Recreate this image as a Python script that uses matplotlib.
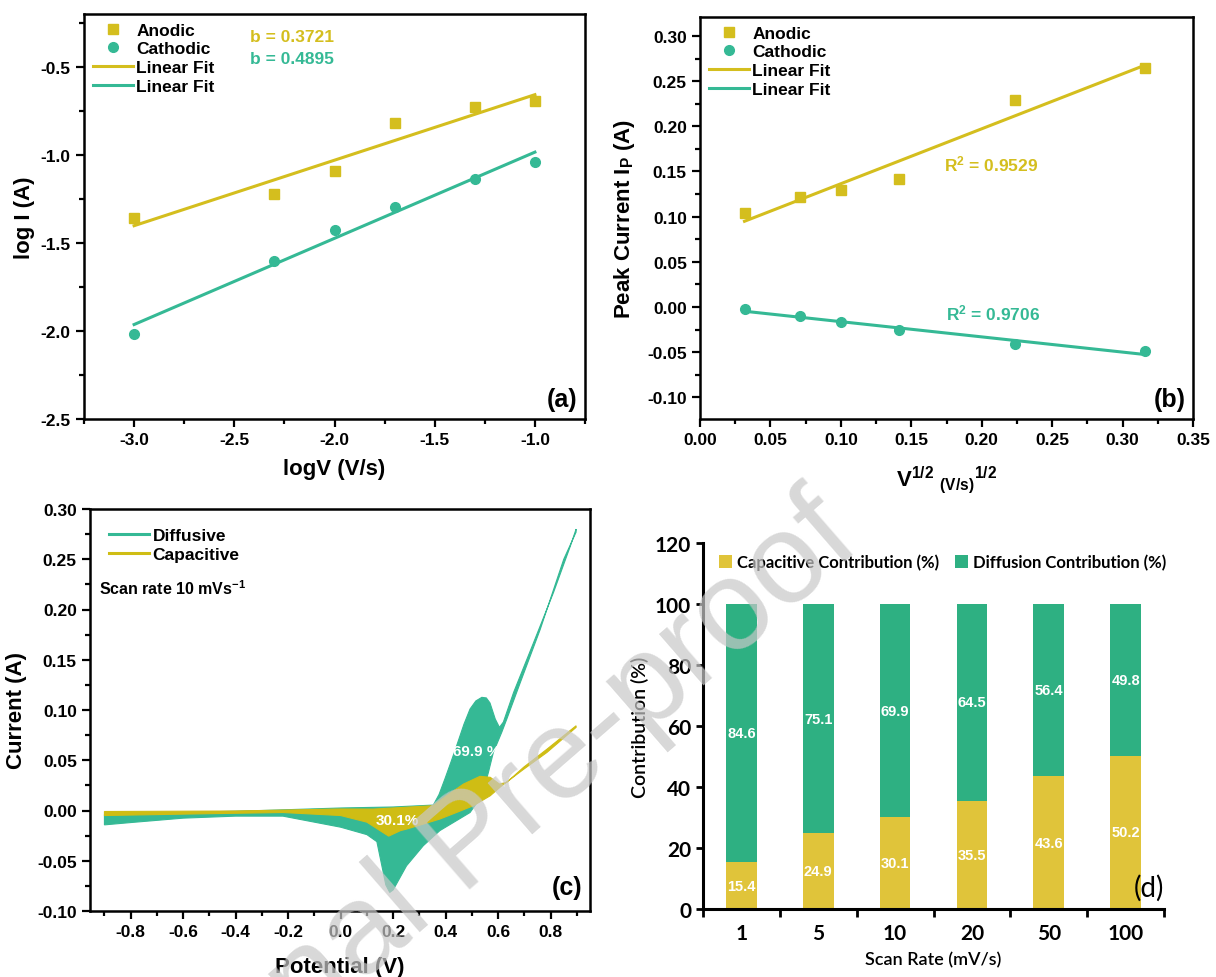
import numpy as np
import matplotlib
matplotlib.use("Agg")
import matplotlib.pyplot as plt
from matplotlib.ticker import MultipleLocator, FormatStrFormatter

plt.rcParams['font.family'] = ['Liberation Sans', 'DejaVu Sans']
plt.rcParams['font.weight'] = 'bold'
plt.rcParams['axes.labelweight'] = 'bold'
plt.rcParams['axes.unicode_minus'] = False
plt.rcParams['mathtext.fontset'] = 'custom'
plt.rcParams['mathtext.rm'] = 'Liberation Sans:bold'
plt.rcParams['mathtext.it'] = 'Liberation Sans:bold'
plt.rcParams['mathtext.bf'] = 'Liberation Sans:bold'

YEL = '#d4be1e'
TEAL = '#35b995'
YEL_C = '#cfbd14'
YEL_D = '#e0c43a'
GRN_D = '#2eb082'

# (a) log I vs log v
log_v = [-3.0, -2.3, -2.0, -1.7, -1.3, -1.0]
logI_anodic = [-1.36, -1.22, -1.09, -0.82, -0.73, -0.695]
logI_cathodic = [-2.02, -1.60, -1.425, -1.295, -1.135, -1.04]
b_values = [0.3721, 0.4895]
fit_intercepts = [-0.286, -0.495]

# (b) peak current vs sqrt(v)
sqrt_v = [0.0316, 0.0707, 0.1, 0.1414, 0.2236, 0.3162]
ip_anodic = [0.104, 0.122, 0.129, 0.142, 0.229, 0.265]
ip_cathodic = [-0.0026, -0.0096, -0.017, -0.026, -0.041, -0.049]
r2_values = ['0.9529', '0.9706']

# (c) CV at 10 mV/s, total (diffusive) and capacitive loops
tot_fwd_E = [-0.9, -0.6, -0.3, 0.0, 0.2, 0.353, 0.375, 0.397, 0.42, 0.442, 0.47, 0.493,
             0.515, 0.538, 0.555, 0.569, 0.589, 0.605, 0.62, 0.659, 0.735, 0.811, 0.875, 0.897]
tot_fwd_I = [-0.004, -0.002, 0.0, 0.0025, 0.0035, 0.0054, 0.016, 0.0313, 0.048, 0.0645, 0.086, 0.101,
             0.109, 0.1126, 0.112, 0.107, 0.091, 0.0827, 0.088, 0.1175, 0.167, 0.217, 0.263, 0.280]
tot_rev_E = [0.897, 0.85, 0.76, 0.684, 0.633, 0.614, 0.582, 0.563, 0.544, 0.52, 0.493, 0.442,
             0.378, 0.315, 0.251, 0.215, 0.2, 0.187, 0.172, 0.157, 0.138, 0.1, 0.0, -0.1,
             -0.22, -0.4, -0.6, -0.8, -0.9]
tot_rev_I = [0.277, 0.25, 0.18, 0.127, 0.091, 0.078, 0.058, 0.038, 0.02, 0.008, -0.002, -0.010,
             -0.020, -0.035, -0.055, -0.072, -0.079, -0.0815, -0.074, -0.055, -0.031, -0.024, -0.0166,
             -0.0116, -0.0056, -0.0056, -0.0076, -0.012, -0.0143]
cap_fwd_E = [-0.9, -0.4, 0.0, 0.124, 0.353, 0.404, 0.468, 0.531, 0.57, 0.605, 0.633, 0.697, 0.786, 0.897]
cap_fwd_I = [-0.001, -0.0005, 0.0015, 0.0014, 0.0048, 0.0147, 0.0263, 0.034, 0.033, 0.0263, 0.028,
             0.043, 0.061, 0.0843]
cap_rev_E = [0.897, 0.786, 0.697, 0.614, 0.57, 0.506, 0.442, 0.378, 0.315, 0.251, 0.228, 0.183,
             0.15, 0.1, 0.0, -0.22, -0.6, -0.9]
cap_rev_I = [0.0827, 0.0578, 0.041, 0.0247, 0.0147, 0.0048, -0.0019, -0.0085, -0.0135, -0.0185,
             -0.02, -0.0255, -0.02, -0.0116, -0.005, -0.002, -0.0036, -0.005]

# (d) contributions per scan rate
scan_rates = ['1', '5', '10', '20', '50', '100']
capacitive = [15.4, 24.9, 30.1, 35.5, 43.6, 50.2]
diffusion = [84.6, 75.1, 69.9, 64.5, 56.4, 49.8]

W, H = 1216, 978
fig = plt.figure(figsize=(W / 100, H / 100), dpi=100)


def rect(l, t, r, b):
    return [l / W, 1 - b / H, (r - l) / W, (b - t) / H]


def origin_style(ax):
    for s in ax.spines.values():
        s.set_linewidth(1.8)
    ax.tick_params(which='both', direction='out', top=False, right=False, width=1.6,
                   labelsize=12.5)
    ax.tick_params(which='major', length=6)
    ax.tick_params(which='minor', length=3.5)


def bold_ticks(ax, family=None, size=None):
    for lab in ax.get_xticklabels(which='both') + ax.get_yticklabels(which='both'):
        lab.set_fontweight('bold')
        if family:
            lab.set_fontfamily(family)
        if size:
            lab.set_fontsize(size)


# ---- (a)
ax = fig.add_axes(rect(84, 15, 585, 420))
origin_style(ax)
ax.plot(log_v, logI_anodic, 's', color=YEL, ms=6.5, label='Anodic')
ax.plot(log_v, logI_cathodic, 'o', color=TEAL, ms=7, label='Cathodic')
xf = np.array([log_v[0], log_v[-1]])
ax.plot(xf, b_values[0] * xf + fit_intercepts[0], color=YEL, lw=2.2, label='Linear Fit')
ax.plot(xf, b_values[1] * xf + fit_intercepts[1], color=TEAL, lw=2.2, label='Linear Fit')
ax.set_xlim(-3.25, -0.75)
ax.set_ylim(-2.5, -0.2)
ax.xaxis.set_major_locator(MultipleLocator(0.5))
ax.xaxis.set_minor_locator(MultipleLocator(0.25))
ax.yaxis.set_major_locator(MultipleLocator(0.5))
ax.yaxis.set_minor_locator(MultipleLocator(0.25))
ax.xaxis.set_major_formatter(FormatStrFormatter('%.1f'))
ax.yaxis.set_major_formatter(FormatStrFormatter('%.1f'))
ax.set_xlabel('logV (V/s)', fontsize=16, labelpad=8)
ax.set_ylabel('log I (A)', fontsize=16, labelpad=4)
ax.legend(loc='upper left', frameon=False, fontsize=12.5, handlelength=2.3,
          handletextpad=0.2, labelspacing=0.2, borderaxespad=0.3, borderpad=0.2)
ax.text(-2.42, -0.325, 'b = %.4f' % b_values[0], color=YEL, fontsize=12.5, va='center')
ax.text(-2.42, -0.455, 'b = %.4f' % b_values[1], color=TEAL, fontsize=12.5, va='center')
ax.text(0.985, 0.02, '(a)', transform=ax.transAxes, ha='right', va='bottom', fontsize=18)
bold_ticks(ax)

# ---- (b)
ax = fig.add_axes(rect(700, 18, 1193, 420))
origin_style(ax)
ax.plot(sqrt_v, ip_anodic, 's', color=YEL, ms=6.5, label='Anodic')
ax.plot(sqrt_v, ip_cathodic, 'o', color=TEAL, ms=7, label='Cathodic')
xs = np.array([sqrt_v[0], sqrt_v[-1]])
pa = np.polyfit(sqrt_v, ip_anodic, 1)
pc = np.polyfit(sqrt_v, ip_cathodic, 1)
ax.plot(xs, np.polyval(pa, xs), color=YEL, lw=2.2, label='Linear Fit')
ax.plot(xs, np.polyval(pc, xs), color=TEAL, lw=2.2, label='Linear Fit')
ax.set_xlim(0, 0.35)
ax.set_ylim(-0.124, 0.321)
ax.xaxis.set_major_locator(MultipleLocator(0.05))
ax.xaxis.set_minor_locator(MultipleLocator(0.025))
ax.yaxis.set_major_locator(MultipleLocator(0.05))
ax.yaxis.set_minor_locator(MultipleLocator(0.025))
ax.xaxis.set_major_formatter(FormatStrFormatter('%.2f'))
ax.yaxis.set_major_formatter(FormatStrFormatter('%.2f'))
ax.set_xlabel(r'V$^{1/2}$ $_{\rm (V/s)}$$^{1/2}$', fontsize=16, labelpad=12)
ax.set_ylabel(r'Peak Current I$_{\rm P}$ (A)', fontsize=16, labelpad=7)
ax.legend(loc='upper left', frameon=False, fontsize=12.5, handlelength=2.3,
          handletextpad=0.2, labelspacing=0.2, borderaxespad=0.3, borderpad=0.2)
ax.text(0.173, 0.159, r'R$^2$ = ' + r2_values[0], color=YEL, fontsize=12.5, va='center')
ax.text(0.175, -0.006, r'R$^2$ = ' + r2_values[1], color=TEAL, fontsize=12.5, va='center')
ax.text(0.985, 0.02, '(b)', transform=ax.transAxes, ha='right', va='bottom', fontsize=18)
bold_ticks(ax)

# ---- (c)
ax = fig.add_axes(rect(90, 510, 590, 912))
origin_style(ax)
ax.fill(tot_fwd_E + tot_rev_E, tot_fwd_I + tot_rev_I, color=TEAL, lw=0.8, ec=TEAL)
ax.fill(cap_fwd_E + cap_rev_E, cap_fwd_I + cap_rev_I, color=YEL_C, lw=0.8, ec=YEL_C)
ax.plot([], [], color=TEAL, lw=2.2, label='Diffusive')
ax.plot([], [], color=YEL_C, lw=2.2, label='Capacitive')
ax.set_xlim(-0.955, 0.95)
ax.set_ylim(-0.10, 0.30)
ax.xaxis.set_major_locator(MultipleLocator(0.2))
ax.xaxis.set_minor_locator(MultipleLocator(0.1))
ax.yaxis.set_major_locator(MultipleLocator(0.05))
ax.yaxis.set_minor_locator(MultipleLocator(0.025))
ax.xaxis.set_major_formatter(FormatStrFormatter('%.1f'))
ax.yaxis.set_major_formatter(FormatStrFormatter('%.2f'))
ax.set_xlabel('Potential (V)', fontsize=16, labelpad=12)
ax.set_ylabel('Current (A)', fontsize=16, labelpad=7)
ax.legend(loc='upper left', frameon=False, fontsize=12.5, handlelength=2.3,
          handletextpad=0.2, labelspacing=0.2, borderaxespad=0.6, borderpad=0.5)
ax.text(-0.92, 0.222, r'Scan rate 10 mVs$^{-1}$', fontsize=11.5, va='center')
ax.text(0.52, 0.059, '69.9 %', color='white', fontsize=11, ha='center', va='center')
ax.text(0.215, -0.009, '30.1%', color='white', fontsize=11, ha='center', va='center')
ax.text(0.985, 0.03, '(c)', transform=ax.transAxes, ha='right', va='bottom', fontsize=18)
bold_ticks(ax)

# ---- (d)
ax = fig.add_axes(rect(703, 544, 1164, 910))
pos = np.arange(len(scan_rates))
b1 = ax.bar(pos, capacitive, 0.4, color=YEL_D, label='Capacitive Contribution (%)')
b2 = ax.bar(pos, diffusion, 0.4, bottom=capacitive, color=GRN_D,
            label='Diffusion Contribution (%)')
for bars, vals in ((b1, capacitive), (b2, diffusion)):
    ax.bar_label(bars, labels=['%.1f' % v for v in vals], label_type='center',
                 color='white', fontsize=10.5, fontweight='bold')
ax.set_xlim(-0.5, 5.5)
ax.set_ylim(0, 120)
ax.spines['top'].set_visible(False)
ax.spines['right'].set_visible(False)
for s in ('left', 'bottom'):
    ax.spines[s].set_linewidth(2.2)
ax.set_xticks(pos)
ax.set_xticklabels(scan_rates)
ax.set_xticks(np.arange(-0.5, 6, 1), minor=True)
ax.set_yticks(np.arange(0, 121, 20))
ax.tick_params(axis='x', which='major', length=0, pad=10)
ax.tick_params(axis='x', which='minor', length=6, width=2, direction='out')
ax.tick_params(axis='y', length=5, width=2, direction='out')
bold_ticks(ax, family=['Lato', 'DejaVu Sans'], size=15)
ax.set_xlabel('Scan Rate (mV/s)', fontsize=13, fontweight='semibold',
              family=['Lato', 'DejaVu Sans'], labelpad=6)
ax.set_ylabel('Contribution (%)', fontsize=14, fontweight='semibold',
              family=['Lato', 'DejaVu Sans'], labelpad=4)
ax.legend(loc='center', bbox_to_anchor=(0.52, 0.948), ncol=2, frameon=False,
          prop={'family': ['Lato', 'DejaVu Sans'], 'weight': 'bold', 'size': 12},
          handlelength=0.75, handleheight=0.75, handletextpad=0.3, columnspacing=1.0)
ax.text(1.0, 0.06, '(d)', transform=ax.transAxes, ha='right', va='center', fontsize=20,
        family=['Lato', 'DejaVu Sans'], fontweight='normal')

# journal watermark
fig.text(470 / W, 1 - 845 / H, 'Journal Pre-proof', rotation=41, fontsize=92,
         fontweight='normal', color='#c8c8c8', alpha=0.7, ha='center', va='center',
         rotation_mode='anchor', zorder=100)

fig.savefig('out.png', dpi=100)
